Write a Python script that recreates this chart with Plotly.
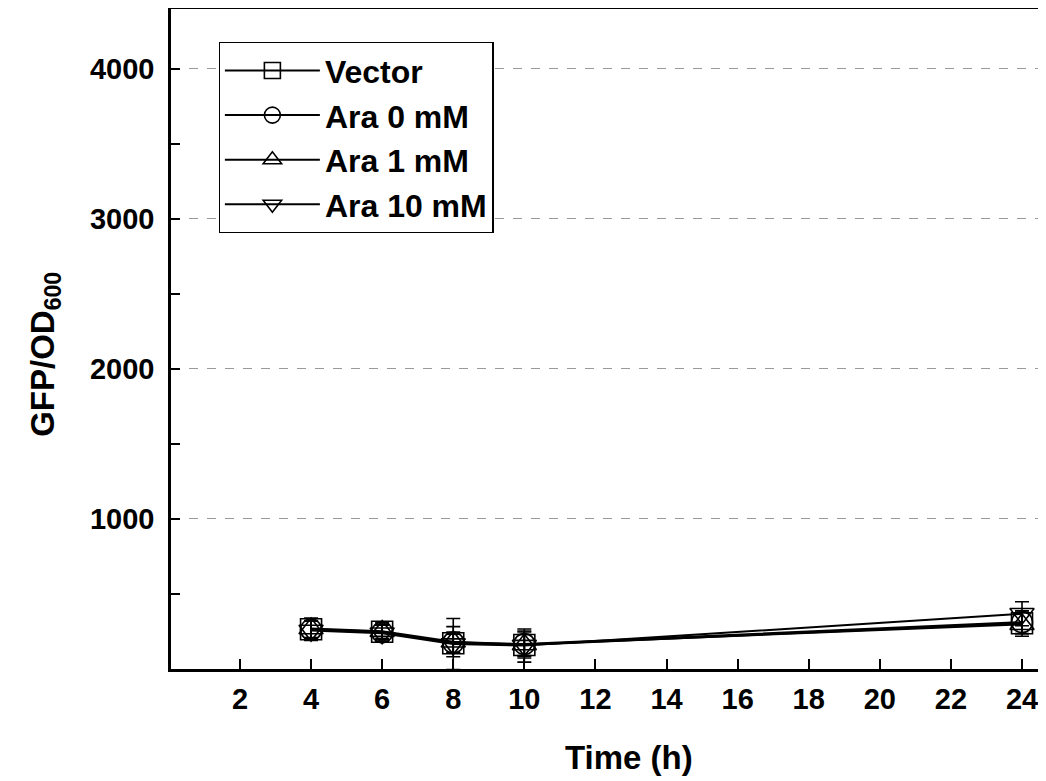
import plotly.graph_objects as go

time_h = [4, 6, 8, 10, 24]
series_names = ["Vector", "Ara 0 mM", "Ara 1 mM", "Ara 10 mM"]
vector = [265, 248, 172, 160, 305]
ara0 = [262, 244, 176, 166, 312]
ara1 = [270, 252, 182, 163, 298]
ara10 = [256, 238, 166, 156, 368]
err_vector = [55, 45, 60, 70, 70]
err_ara0 = [60, 50, 70, 80, 75]
err_ara1 = [70, 55, 100, 90, 80]
err_ara10 = [65, 55, 170, 110, 80]
symbols = ["square-open", "circle-open", "triangle-up-open", "triangle-down-open"]

y_ticks = [1000, 2000, 3000, 4000]
y_minor = [500, 1500, 2500, 3500]
x_ticks = [2, 4, 6, 8, 10, 12, 14, 16, 18, 20, 22, 24]

fig = go.Figure()
for i, (name, vals, errs, sym) in enumerate(zip(series_names, [vector, ara0, ara1, ara10],
                                            [err_vector, err_ara0, err_ara1, err_ara10], symbols)):
    fig.add_trace(go.Scatter(
        x=time_h, y=vals, name=name, mode="lines+markers",
        line=dict(color="black", width=2),
        marker=dict(symbol=sym, size=21, color="black", line=dict(color="black", width=1.6)),
        error_y=dict(type="data", array=errs, visible=True, color="black", thickness=1.6, width=7),
        legendgroup=f"g{i}",
    ))

font_family = "Liberation Sans, Arial, sans-serif"
fig.update_layout(
    width=1046, height=781,
    margin=dict(l=163, r=0, t=1, b=120),
    paper_bgcolor="white", plot_bgcolor="white",
    font=dict(family=font_family, color="black"),
    showlegend=True,
    legend=dict(
        x=0.054, y=0.95, xanchor="left", yanchor="top",
        bordercolor="black", borderwidth=1.2, bgcolor="white",
        font=dict(size=32, family=font_family, color="black", weight="bold"),
        traceorder="grouped", tracegroupgap=0,
        itemwidth=95,
    ),
    xaxis=dict(
        range=[0.06, 24.9], tickvals=x_ticks, ticktext=[str(t) for t in x_ticks],
        ticks="inside", ticklen=10, tickwidth=2, tickcolor="black",
        showline=True, linecolor="black", linewidth=2.5, mirror=True,
        showgrid=False, zeroline=False, automargin=False,
        tickfont=dict(size=29, family=font_family, weight="bold"),
        ticklabelstandoff=2,
    ),
    yaxis=dict(
        range=[0, 4397], tickvals=y_ticks,
        ticks="inside", ticklen=9, tickwidth=2, tickcolor="black",
        minor=dict(tickvals=y_minor, ticks="inside", ticklen=9, tickwidth=2, tickcolor="black", showgrid=False),
        showline=True, linecolor="black", linewidth=2.5, mirror=False,
        showgrid=True, gridcolor="#9a9a9a", griddash="dash", gridwidth=1,
        zeroline=False, automargin=False,
        tickfont=dict(size=29, family=font_family, weight="bold"),
        ticklabelstandoff=8,
    ),
    annotations=[
        dict(text="Time (h)", xref="paper", yref="paper", x=0.5187, y=0, yshift=-88,
             xanchor="center", yanchor="middle", showarrow=False,
             font=dict(size=33, family=font_family, weight="bold", color="black")),
        dict(text="GFP/OD<sub>600</sub>", xref="paper", yref="paper", x=0, xshift=-126, y=0.476,
             xanchor="center", yanchor="middle", textangle=-90, showarrow=False,
             font=dict(size=33, family=font_family, weight="bold", color="black")),
    ],
)

fig.write_html("out.html")
